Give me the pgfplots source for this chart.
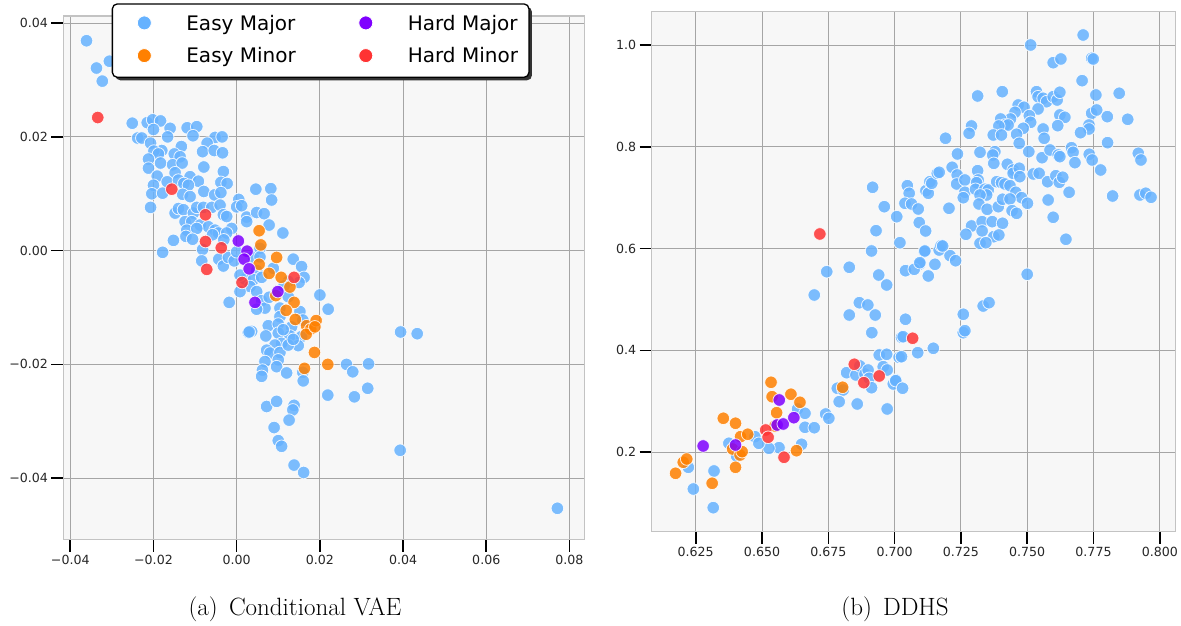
\documentclass[border=0pt]{standalone}
\usepackage{pgfplots}
\pgfplotsset{compat=1.18}
\usepackage{fontspec}
\usetikzlibrary{shadows}
\newfontfamily\dejavu{DejaVu Sans}
\definecolor{EMc}{RGB}{102,178,255}
\definecolor{EMic}{RGB}{255,128,0}
\definecolor{HMc}{RGB}{127,0,255}
\definecolor{HMic}{RGB}{255,51,51}
\definecolor{bgc}{RGB}{247,247,247}
\definecolor{gridc}{RGB}{165,165,165}
\definecolor{framec}{RGB}{195,195,195}
\makeatletter
\tikzset{nopreact/.code={\let\tikz@preactions\pgfutil@empty}}
\makeatother
\pgfplotsset{
  pts/.style={only marks, mark=*, mark size=6.3pt,
    mark options={draw=white, line width=0.8pt, fill=#1, opacity=0.85}, forget plot},
  legpt/.style={only marks, mark=*, mark size=7pt,
    mark options={draw=white, line width=0.8pt, fill=#1}},
}
\begin{document}
\begin{tikzpicture}[x=1pt,y=1pt]
\path[use as bounding box] (0,0) rectangle (1181,626);
% ---------------- left: Conditional VAE ----------------
\begin{axis}[scale only axis, anchor=south west,
  at={(63.5pt,86.4pt)}, width=521.1pt, height=523.6pt,
  grid=major, tick align=outside, tick pos=left, major tick length=12pt,
  xtick style={draw=black, line width=1.6pt}, ytick style={draw=black, line width=1.6pt},
  axis background/.style={fill=bgc},
  major grid style={draw=gridc, line width=0.9pt},
  axis line style={draw=framec, line width=1.2pt},
  tick label style={font=\dejavu\fontsize{12.6}{15}\selectfont, text=black!85},
  scaled ticks=false,
  xmin=-0.04163, xmax=0.08364, ymin=-0.0508, ymax=0.04125,
  xtick={-0.04,-0.02,0,0.02,0.04,0.06,0.08},
  xticklabels={−0.04,−0.02,0.00,0.02,0.04,0.06,0.08},
  ytick={-0.04,-0.02,0,0.02,0.04},
  yticklabels={−0.04,−0.02,0.00,0.02,0.04},
  legend columns=2, legend cell align=left,
  legend image code/.code={%
    \pgfpathrectangle{\pgfpoint{-21pt}{-10pt}}{\pgfpoint{28pt}{17.3pt}}\pgfusepath{use as bounding box}%
    \draw[nopreact,#1] plot coordinates {(0pt,0pt)};},
  legend style={at={(0.0925,1.0243)}, anchor=north west,
    draw=black, line width=1.3pt, fill=white, rounded corners=5pt,
    drop shadow={shadow xshift=3pt, shadow yshift=-3pt, fill=black!80, opacity=1},
    inner xsep=11pt, inner ysep=11.7pt, row sep=15.4pt,
    font=\dejavu\fontsize{20}{24}\selectfont,
    nodes={inner sep=0pt, text height=14.6pt, text depth=0pt, nopreact},
    /tikz/every odd column/.append style={column sep=35pt},
    /tikz/every even column/.append style={column sep=49pt}},
]
\addlegendimage{legpt=EMc}\addlegendentry{Easy Major}
\addlegendimage{legpt=HMc}\addlegendentry{Hard Major}
\addlegendimage{legpt=EMic}\addlegendentry{Easy Minor}
\addlegendimage{legpt=HMic}\addlegendentry{Hard Minor}
\addplot[pts=EMc] coordinates {
(-0.0361,0.0369)(-0.0337,0.0321)(-0.0323,0.0298)(-0.0306,0.0333)
(-0.0251,0.0224)(-0.0215,0.0225)(-0.0202,0.0230)(-0.0183,0.0228)
(-0.0200,0.0213)(-0.0160,0.0215)(-0.0119,0.0216)(-0.0096,0.0218)
(-0.0105,0.0202)(-0.0238,0.0198)(-0.0228,0.0198)(-0.0207,0.0189)
(-0.0166,0.0200)(-0.0052,0.0199)(-0.0035,0.0200)(-0.0071,0.0189)
(-0.0133,0.0183)(-0.0180,0.0176)(-0.0199,0.0175)(-0.0188,0.0170)
(-0.0150,0.0170)(-0.0082,0.0174)(-0.0054,0.0176)(-0.0034,0.0172)
(-0.0212,0.0161)(-0.0136,0.0165)(-0.0183,0.0154)(-0.0154,0.0151)
(-0.0131,0.0154)(-0.0212,0.0145)(-0.0079,0.0147)(-0.0032,0.0139)
(-0.0148,0.0137)(-0.0191,0.0131)(-0.0112,0.0130)(-0.0092,0.0122)
(-0.0167,0.0121)(-0.0140,0.0124)(-0.0127,0.0118)(-0.0038,0.0120)
(-0.0023,0.0118)(-0.0200,0.0115)(-0.0116,0.0115)(-0.0204,0.0100)
(-0.0178,0.0101)(-0.0130,0.0099)(-0.0112,0.0095)(-0.0079,0.0104)
(-0.0053,0.0098)(-0.0038,0.0102)(0.0005,0.0090)(0.0046,0.0108)
(0.0082,0.0109)(0.0084,0.0089)(-0.0207,0.0076)(-0.0148,0.0066)
(-0.0140,0.0074)(-0.0128,0.0072)(-0.0104,0.0066)(-0.0096,0.0076)
(-0.0080,0.0076)(-0.0060,0.0076)(-0.0040,0.0080)(0.0000,0.0077)
(0.0012,0.0079)(-0.0124,0.0051)(-0.0108,0.0051)(-0.0088,0.0045)
(-0.0068,0.0042)(-0.0032,0.0063)(-0.0024,0.0060)(-0.0120,0.0036)
(-0.0096,0.0039)(-0.0052,0.0036)(-0.0044,0.0031)(-0.0012,0.0039)
(-0.0122,0.0025)(-0.0106,0.0020)(-0.0058,0.0028)(-0.0024,0.0031)
(0.0024,0.0059)(0.0024,0.0051)(0.0048,0.0067)(0.0066,0.0065)
(0.0078,0.0045)(0.0111,0.0031)(-0.0152,0.0018)(-0.0178,-0.0003)
(-0.0082,0.0002)(-0.0084,-0.0018)(-0.0031,0.0019)(-0.0043,-0.0015)
(-0.0032,-0.0027)(-0.0020,-0.0012)(-0.0006,-0.0018)(0.0000,-0.0002)
(0.0040,-0.0011)(0.0056,0.0004)(0.0056,-0.0011)(0.0048,-0.0035)
(0.0020,-0.0050)(0.0008,-0.0043)(0.0040,-0.0051)(0.0060,-0.0047)
(0.0088,-0.0031)(0.0136,-0.0015)(0.0156,-0.0028)(0.0162,-0.0047)
(0.0150,-0.0056)(0.0124,-0.0054)(0.0114,-0.0062)(0.0032,-0.0063)
(0.0048,-0.0072)(0.0008,-0.0072)(-0.0018,-0.0091)(0.0060,-0.0088)
(0.0068,-0.0101)(0.0048,-0.0103)(0.0078,-0.0082)(0.0124,-0.0081)
(0.0104,-0.0101)(0.0152,-0.0107)(0.0104,-0.0116)(0.0132,-0.0134)
(0.0076,-0.0132)(0.0100,-0.0129)(0.0036,-0.0142)(0.0028,-0.0144)
(0.0070,-0.0150)(0.0100,-0.0145)(0.0128,-0.0150)(0.0156,-0.0151)
(0.0108,-0.0163)(0.0092,-0.0166)(0.0148,-0.0167)(0.0072,-0.0175)
(0.0080,-0.0180)(0.0104,-0.0179)(0.0124,-0.0166)(0.0200,-0.0078)
(0.0068,-0.0195)(0.0100,-0.0192)(0.0062,-0.0210)(0.0096,-0.0204)
(0.0060,-0.0221)(0.0120,-0.0215)(0.0159,-0.0214)(0.0220,-0.0103)
(0.0159,-0.0122)(0.0112,-0.0139)(0.0136,-0.0156)(0.0030,-0.0143)
(0.0160,-0.0229)(0.0264,-0.0200)(0.0279,-0.0213)(0.0317,-0.0199)
(0.0219,-0.0254)(0.0283,-0.0257)(0.0315,-0.0242)(0.0394,-0.0143)
(0.0434,-0.0146)(0.0072,-0.0274)(0.0096,-0.0265)(0.0138,-0.0272)
(0.0135,-0.0280)(0.0126,-0.0298)(0.0090,-0.0311)(0.0100,-0.0334)
(0.0108,-0.0344)(0.0138,-0.0377)(0.0161,-0.0390)(0.0393,-0.0351)
(0.0771,-0.0453)
};
\addplot[pts=EMic] coordinates {
(0.0054,0.0035)(0.0058,0.0010)(0.0054,-0.0024)(0.0096,-0.0012)
(0.0078,-0.0040)(0.0107,-0.0047)(0.0128,-0.0064)(0.0094,-0.0079)
(0.0138,-0.0091)(0.0119,-0.0105)(0.0141,-0.0121)(0.0168,-0.0132)
(0.0178,-0.0138)(0.0191,-0.0123)(0.0167,-0.0147)(0.0187,-0.0179)
(0.0163,-0.0207)(0.0219,-0.0200)(0.0188,-0.0134)
};
\addplot[pts=HMc] coordinates {
(0.0004,0.0017)(0.0025,-0.0001)(0.0018,-0.0015)(0.0030,-0.0032)
(0.0099,-0.0072)(0.0044,-0.0091)
};
\addplot[pts=HMic] coordinates {
(-0.0334,0.0234)(-0.0156,0.0108)(-0.0075,0.0063)(-0.0075,0.0016)
(-0.0037,0.0005)(-0.0072,-0.0033)(0.0013,-0.0056)(0.0138,-0.0047)
};
\end{axis}
% ---------------- right: DDHS ----------------
\begin{axis}[scale only axis, anchor=south west,
  at={(651.7pt,94.3pt)}, width=524pt, height=520pt,
  grid=major, tick align=outside, tick pos=left, major tick length=12pt,
  xtick style={draw=black, line width=1.6pt}, ytick style={draw=black, line width=1.6pt},
  axis background/.style={fill=bgc},
  major grid style={draw=gridc, line width=0.9pt},
  axis line style={draw=framec, line width=1.2pt},
  tick label style={font=\dejavu\fontsize{12.6}{15}\selectfont, text=black!85},
  scaled ticks=false,
  xmin=0.6084, xmax=0.806, ymin=0.0438, ymax=1.0654,
  xtick={0.625,0.65,0.675,0.7,0.725,0.75,0.775,0.8},
  xticklabels={0.625,0.650,0.675,0.700,0.725,0.750,0.775,0.800},
  ytick={0.2,0.4,0.6,0.8,1.0},
  yticklabels={0.2,0.4,0.6,0.8,1.0},
]
\addplot[pts=EMc] coordinates {
(0.6917,0.7204)(0.6961,0.6823)(0.7008,0.6627)(0.6930,0.6352)
(0.7020,0.6116)(0.6913,0.5953)(0.6744,0.5546)(0.6829,0.5633)
(0.6940,0.5481)(0.6970,0.5285)(0.6697,0.5088)(0.6867,0.4937)
(0.6899,0.4892)(0.6829,0.4695)(0.6927,0.4695)(0.6914,0.4348)
(0.7026,0.4257)(0.6942,0.3910)(0.6970,0.3923)(0.7017,0.3864)
(0.6819,0.3562)(0.6854,0.3517)(0.6869,0.3694)(0.6888,0.3536)
(0.6900,0.3615)(0.6957,0.3680)(0.6972,0.3615)(0.6904,0.3452)
(0.6913,0.3267)(0.6995,0.3340)(0.7005,0.3418)(0.6784,0.3256)
(0.6806,0.3222)(0.6791,0.2992)(0.6859,0.2947)(0.6972,0.2849)
(0.6740,0.2750)(0.6752,0.2666)(0.6634,0.2849)(0.6662,0.2764)
(0.6662,0.2489)(0.6697,0.2481)(0.6649,0.2155)(0.6564,0.2089)
(0.6526,0.2077)(0.6473,0.2305)(0.6488,0.2175)(0.6375,0.2175)
(0.6404,0.1925)(0.6222,0.1703)(0.6241,0.1277)(0.6319,0.1631)
(0.6316,0.0910)
(0.7112,0.5939)(0.7168,0.5972)(0.7209,0.5861)(0.7230,0.5762)
(0.7095,0.5697)(0.7152,0.5691)(0.7041,0.5566)(0.7074,0.5593)
(0.7127,0.5462)(0.7500,0.5495)(0.7041,0.4611)(0.7032,0.4269)
(0.7259,0.4709)(0.7259,0.4348)(0.7265,0.4387)(0.7334,0.4872)
(0.7356,0.4937)(0.7146,0.4041)(0.7087,0.3955)(0.7026,0.3876)
(0.7004,0.3405)(0.7030,0.3256)
(0.7711,1.0196)(0.7513,1.0000)(0.7598,0.9652)(0.7627,0.9725)
(0.7743,0.9739)(0.7749,0.9725)(0.7707,0.9299)(0.7313,0.8998)
(0.7406,0.9083)(0.7535,0.9083)(0.7541,0.8984)(0.7560,0.8953)
(0.7573,0.8886)(0.7598,0.8984)(0.7613,0.8919)(0.7623,0.9071)
(0.7759,0.9018)(0.7847,0.9051)(0.7541,0.8743)(0.7466,0.8821)
(0.7488,0.8776)(0.7454,0.8678)(0.7508,0.8611)(0.7513,0.8481)
(0.7437,0.8546)(0.7400,0.8546)(0.7416,0.8428)(0.7428,0.8428)
(0.7485,0.8363)(0.7623,0.8625)(0.7642,0.8579)(0.7615,0.8415)
(0.7560,0.8350)(0.7743,0.8658)(0.7762,0.8723)(0.7802,0.8592)
(0.7879,0.8540)(0.7733,0.8428)(0.7733,0.8350)(0.7701,0.8277)
(0.7803,0.8081)(0.7393,0.8409)(0.7290,0.8409)(0.7281,0.8265)
(0.7372,0.8232)(0.7403,0.8232)(0.7460,0.8246)(0.7564,0.8167)
(0.7470,0.8069)(0.7192,0.8167)(0.7237,0.7859)(0.7322,0.7892)
(0.7378,0.7904)(0.7370,0.7839)(0.7374,0.7675)(0.7506,0.7904)
(0.7556,0.7786)(0.7586,0.7937)(0.7617,0.7839)(0.7623,0.7806)
(0.7667,0.7982)(0.7673,0.7892)(0.7680,0.7688)(0.7734,0.7853)
(0.7745,0.7741)(0.7777,0.7544)(0.7919,0.7872)(0.7929,0.7741)
(0.7217,0.7597)(0.7236,0.7446)(0.7234,0.7269)(0.7265,0.7348)
(0.7265,0.7106)(0.7259,0.7000)(0.7313,0.7531)(0.7315,0.7348)
(0.7309,0.7295)(0.7305,0.7165)(0.7340,0.7165)(0.7353,0.7151)
(0.7347,0.7053)(0.7322,0.7053)(0.7318,0.6876)(0.7349,0.6772)
(0.7385,0.7314)(0.7403,0.7295)(0.7416,0.7269)(0.7435,0.7236)
(0.7425,0.7656)(0.7447,0.7544)(0.7447,0.7479)(0.7470,0.7578)
(0.7472,0.7413)(0.7457,0.7106)(0.7479,0.7000)(0.7501,0.6890)
(0.7391,0.6823)(0.7407,0.6969)(0.7435,0.6975)(0.7443,0.6745)
(0.7460,0.6693)(0.7523,0.7466)(0.7545,0.7479)(0.7577,0.7314)
(0.7608,0.7432)(0.7621,0.7302)(0.7634,0.7401)(0.7658,0.7106)
(0.7579,0.6955)(0.7598,0.6615)(0.7646,0.6183)(0.7822,0.7033)
(0.7925,0.7053)(0.7947,0.7087)(0.7967,0.7008)(0.7048,0.7236)
(0.7055,0.7087)(0.7039,0.6890)(0.7064,0.6876)(0.7089,0.6778)
(0.7118,0.7138)(0.7127,0.7087)(0.7133,0.7314)(0.7140,0.7283)
(0.7161,0.7479)(0.7168,0.7499)(0.7205,0.6792)(0.7093,0.6510)
(0.7117,0.6346)(0.7290,0.6444)(0.7269,0.6281)(0.7330,0.6529)
(0.7330,0.6346)(0.7368,0.6529)(0.7407,0.6497)(0.7374,0.6234)
(0.7393,0.6267)(0.7322,0.6104)(0.7344,0.6116)(0.7175,0.6057)
(0.7181,0.6051)(0.7114,0.5953)(0.7095,0.5723)
};
\addplot[pts=EMic] coordinates {
(0.6174,0.1585)(0.6203,0.1802)(0.6216,0.1866)(0.6312,0.1389)
(0.6354,0.2666)(0.6400,0.2568)(0.6400,0.1703)(0.6389,0.2063)
(0.6417,0.1945)(0.6425,0.2010)(0.6419,0.2305)(0.6446,0.2352)
(0.6534,0.3373)(0.6538,0.3090)(0.6555,0.2776)(0.6549,0.2515)
(0.6609,0.3138)(0.6643,0.2980)(0.6630,0.2030)(0.6804,0.3275)
};
\addplot[pts=HMc] coordinates {
(0.6278,0.2122)(0.6400,0.2141)(0.6565,0.3026)(0.6557,0.2534)
(0.6580,0.2554)(0.6620,0.2678)
};
\addplot[pts=HMic] coordinates {
(0.6718,0.6287)(0.6514,0.2436)(0.6523,0.2293)(0.6583,0.1900)
(0.6848,0.3727)(0.6884,0.3366)(0.6942,0.3497)(0.7068,0.4238)
};
\end{axis}
\node[anchor=base, font=\fontsize{25}{29}\selectfont] at (295,10) {(a)\hspace{0.45em}Conditional VAE};
\node[anchor=base, font=\fontsize{25}{29}\selectfont] at (895,10) {(b)\hspace{0.45em}DDHS};
\end{tikzpicture}
\end{document}
